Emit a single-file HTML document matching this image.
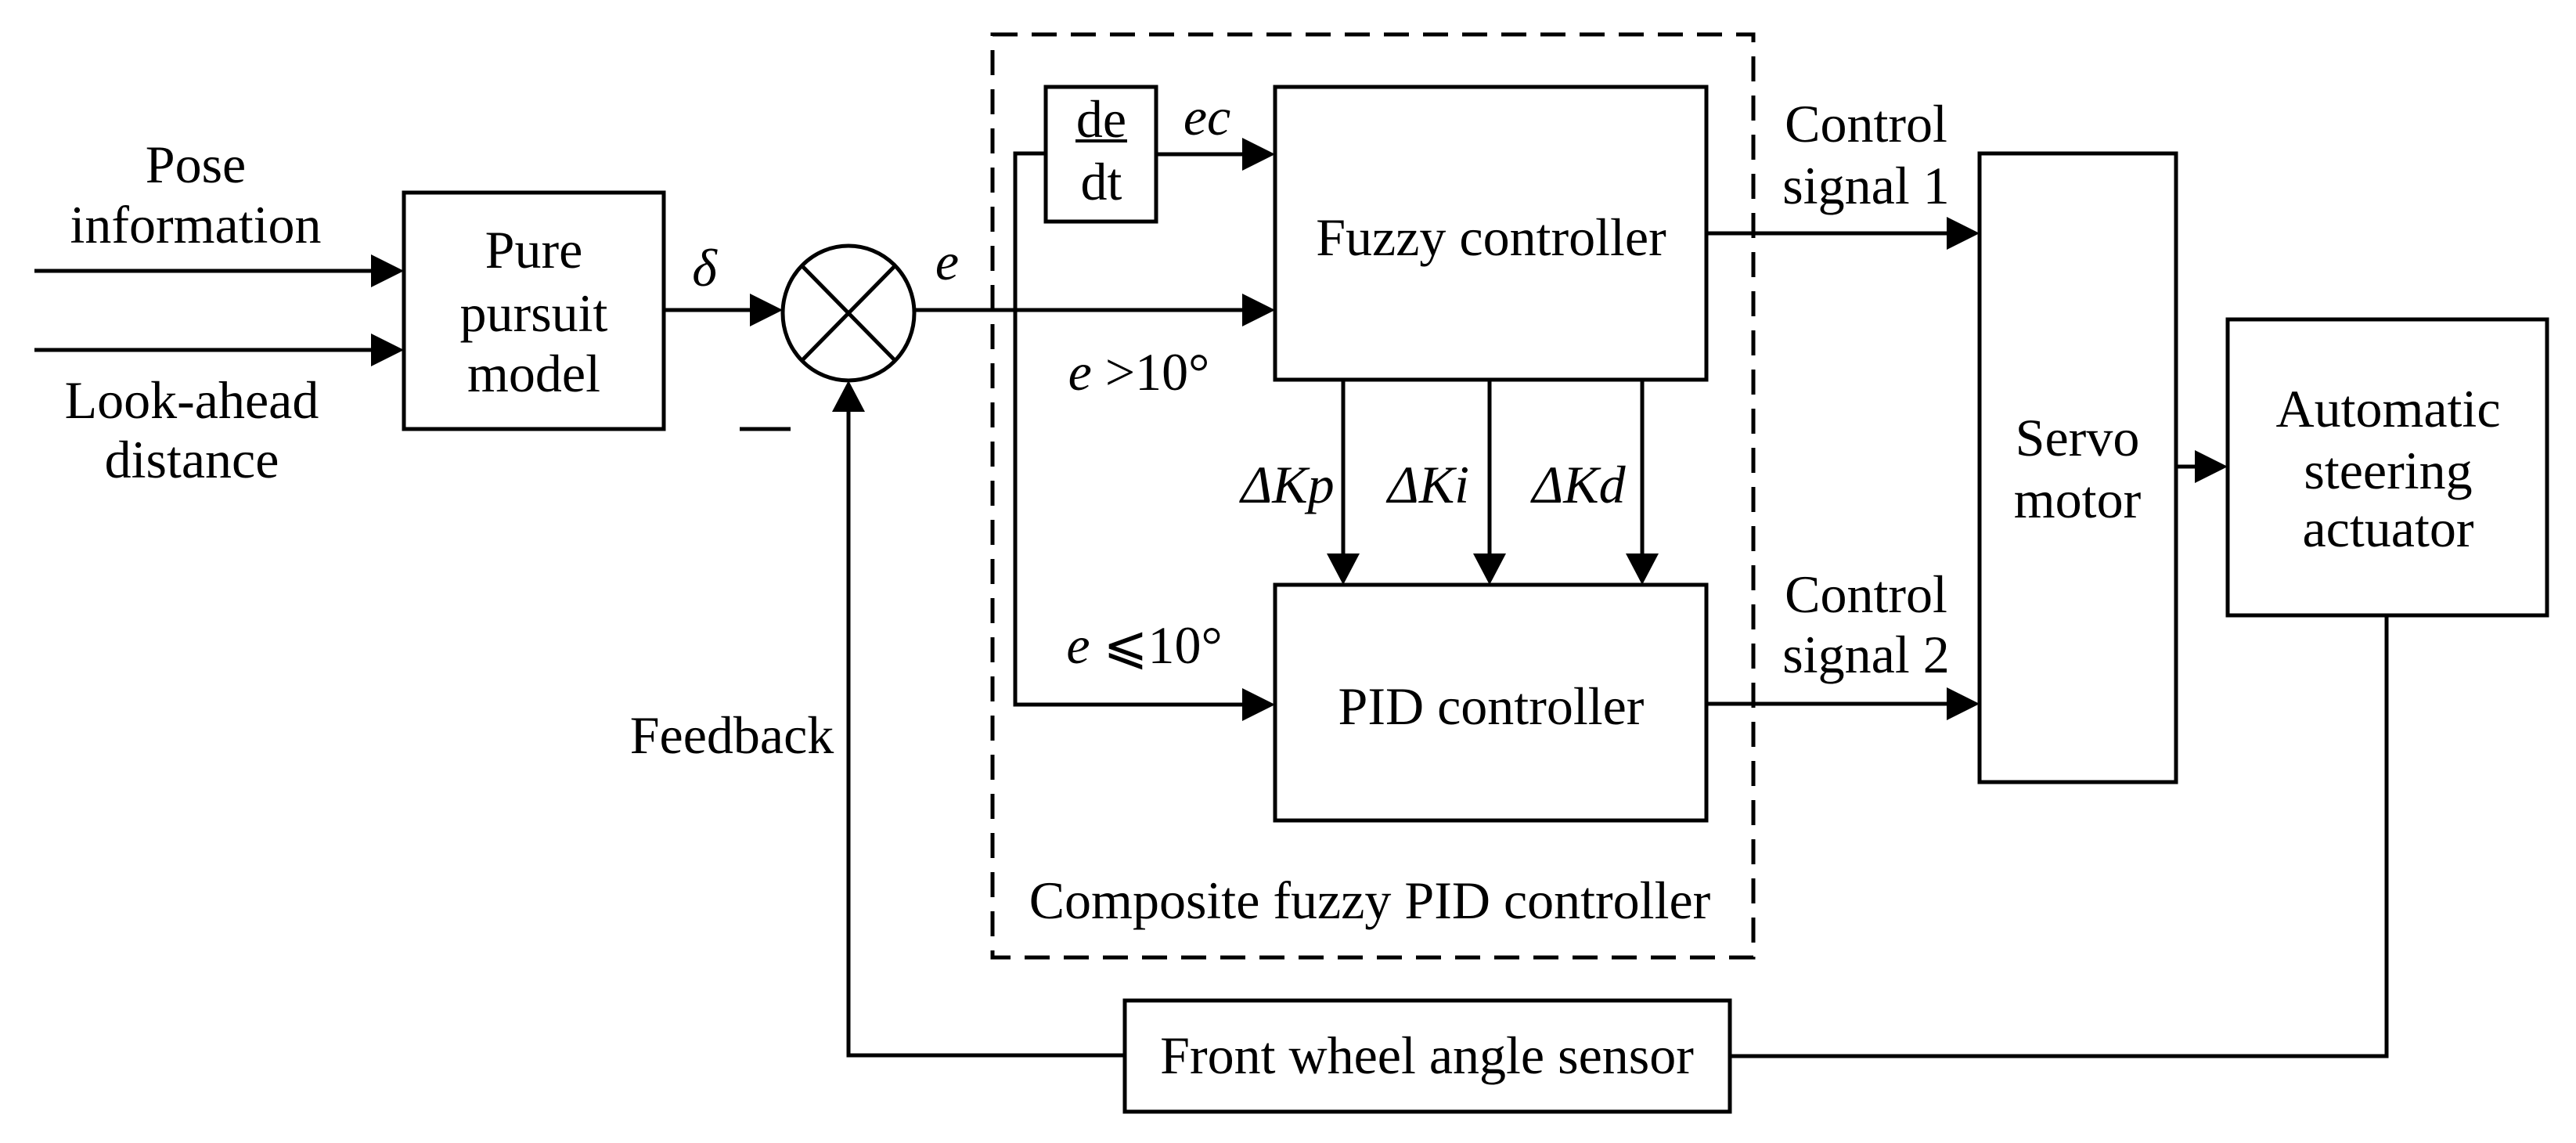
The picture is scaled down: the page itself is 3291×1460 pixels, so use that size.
<!DOCTYPE html>
<html><head><meta charset="utf-8"><style>
html,body{margin:0;padding:0;background:#fff;overflow:hidden;}
svg{display:block;}
text{font-family:"Liberation Serif",serif;font-size:68px;fill:#000;dominant-baseline:central;text-anchor:middle;}
.i{font-style:italic;}
</style></head><body>
<svg width="3291" height="1460" viewBox="0 0 3291 1460" xmlns="http://www.w3.org/2000/svg">
<g stroke="#000" stroke-width="5" fill="none">
<line x1="44" y1="346" x2="480" y2="346"/>
<line x1="44" y1="447" x2="480" y2="447"/>
<rect x="516" y="246" width="332" height="302"/>
<line x1="848" y1="396" x2="960" y2="396"/>
<ellipse cx="1084" cy="400" rx="84" ry="86"/>
<line x1="1025" y1="340" x2="1143" y2="460"/>
<line x1="1143" y1="340" x2="1025" y2="460"/>
<line x1="945" y1="548" x2="1010" y2="548"/>
<line x1="1170" y1="396" x2="1590" y2="396"/>
<polyline points="1437,1348 1084,1348 1084,520"/>
<rect x="1268" y="44" width="972" height="1179" stroke-dasharray="32,18"/>
<rect x="1336" y="111" width="141" height="172"/>
<polyline points="1336,196 1297,196 1297,900 1590,900"/>
<line x1="1477" y1="197" x2="1590" y2="197"/>
<rect x="1629" y="111" width="551" height="374"/>
<rect x="1629" y="747" width="551" height="301"/>
<line x1="1716" y1="485" x2="1716" y2="712"/>
<line x1="1903" y1="485" x2="1903" y2="712"/>
<line x1="2098" y1="485" x2="2098" y2="712"/>
<line x1="2180" y1="298" x2="2490" y2="298"/>
<line x1="2180" y1="899" x2="2490" y2="899"/>
<rect x="2529" y="196" width="251" height="803"/>
<line x1="2780" y1="596" x2="2808" y2="596"/>
<rect x="2846" y="408" width="408" height="378"/>
<polyline points="3049,786 3049,1349 2210,1349"/>
<rect x="1437" y="1278" width="773" height="142"/>
<line x1="1374" y1="180" x2="1440" y2="180" stroke-width="4"/>
</g>
<g fill="#000">
<polygon points="516,346 474,325 474,367"/>
<polygon points="516,447 474,426 474,468"/>
<polygon points="1000,396 958,375 958,417"/>
<polygon points="1084,486 1063,526 1105,526"/>
<polygon points="1629,396 1587,375 1587,417"/>
<polygon points="1629,197 1587,176 1587,218"/>
<polygon points="1629,900 1587,879 1587,921"/>
<polygon points="1716,747 1695,707 1737,707"/>
<polygon points="1903,747 1882,707 1924,707"/>
<polygon points="2098,747 2077,707 2119,707"/>
<polygon points="2529,298 2487,277 2487,319"/>
<polygon points="2529,899 2487,878 2487,920"/>
<polygon points="2846,596 2804,575 2804,617"/>
</g>
<text x="250" y="210">Pose</text>
<text x="250" y="287">information</text>
<text x="245" y="511">Look-ahead</text>
<text x="245" y="587">distance</text>
<text x="682" y="319">Pure</text>
<text x="682" y="400">pursuit</text>
<text x="682" y="477">model</text>
<text x="900" y="342" class="i">δ</text>
<text x="1210" y="334" class="i">e</text>
<text x="1407" y="152">de</text>
<text x="1407" y="232">dt</text>
<text x="1542" y="149" class="i">ec</text>
<text x="1905" y="303">Fuzzy controller</text>
<text x="1455" y="475"><tspan class="i">e</tspan> &gt;10°</text>
<text x="1462" y="824"><tspan class="i">e</tspan> ⩽10°</text>
<text x="1645" y="619" class="i">ΔKp</text>
<text x="1825" y="619" class="i">ΔKi</text>
<text x="2017" y="619" class="i">ΔKd</text>
<text x="1905" y="902">PID controller</text>
<text x="1750" y="1150">Composite fuzzy PID controller</text>
<text x="935" y="939">Feedback</text>
<text x="1823" y="1348">Front wheel angle sensor</text>
<text x="2384" y="158">Control</text>
<text x="2384" y="237">signal 1</text>
<text x="2384" y="759">Control</text>
<text x="2384" y="836">signal 2</text>
<text x="2654" y="559">Servo</text>
<text x="2654" y="638">motor</text>
<text x="3051" y="522">Automatic</text>
<text x="3051" y="601">steering</text>
<text x="3051" y="675">actuator</text>
</svg>
</body></html>
